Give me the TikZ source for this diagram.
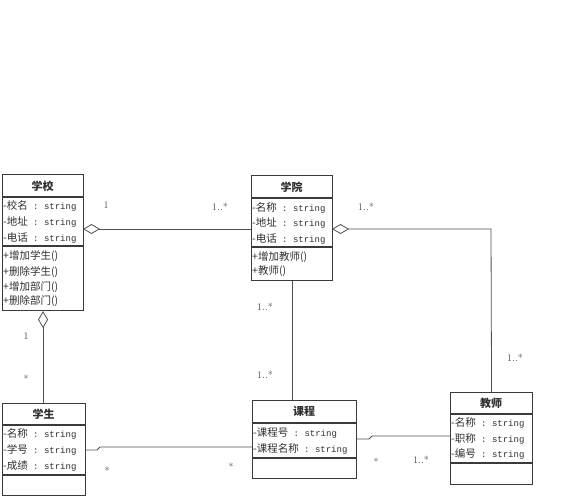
\documentclass[tikz,border=0pt]{standalone}
\usepackage{fontspec}
\newfontfamily\cjk{Noto Sans CJK SC}
\setmonofont{Liberation Mono}
\usetikzlibrary{arrows.meta}
\definecolor{boxc}{HTML}{3A3A3A}
\definecolor{linec}{HTML}{505050}
\definecolor{txt}{HTML}{303030}
\begin{document}
\begin{tikzpicture}[x=1pt,y=-1pt,
  box/.style={draw=boxc, line width=1.1pt, inner sep=0pt, anchor=north west},
  sep/.style={draw=boxc, line width=1.1pt},
  ttl/.style={inner sep=0pt, text=txt, font=\cjk\bfseries\fontsize{11}{12}\selectfont},
  attr/.style={anchor=west, inner sep=0pt, text=txt, font=\cjk\fontsize{10.5}{12}\selectfont},
  mult/.style={inner sep=0pt, text=txt!85, font=\fontsize{10}{11}\selectfont},
  link/.style={draw=linec, line width=0.8pt},
  agg/.style={link, {Diamond[open,length=17pt,width=10pt,line width=0.8pt]}-}
]
\useasboundingbox[fill=white] (0,0) rectangle (584,500);
\newcommand{\str}{{\ttfamily\fontsize{9}{10}\selectfont\ :\ string}}

% 学校
\node[box, minimum width=81pt, minimum height=136pt] (school) at (2,174) {};
\draw[sep] (2,197) -- (83,197);
\draw[sep] (2,246) -- (83,246);
\node[ttl] (schoolT) at (42.5,186) {学校};
\node[attr] (s1) at (3,206) {-校名\str};
\node[attr] (s2) at (3,222) {-地址\str};
\node[attr] (s3) at (3,238) {-电话\str};
\node[attr] (s4) at (3,256) {+增加学生()};
\node[attr] (s5) at (3,272) {+删除学生()};
\node[attr] (s6) at (3,287) {+增加部门()};
\node[attr] (s7) at (3,301) {+删除部门()};

% 学院
\node[box, minimum width=81pt, minimum height=105pt] (college) at (251,175) {};
\draw[sep] (251,198) -- (332,198);
\draw[sep] (251,247) -- (332,247);
\node[ttl] (collegeT) at (291.5,187) {学院};
\node[attr] (c1) at (252,208) {-名称\str};
\node[attr] (c2) at (252,223) {-地址\str};
\node[attr] (c3) at (252,239) {-电话\str};
\node[attr] (c4) at (252,257) {+增加教师()};
\node[attr] (c5) at (252,271) {+教师()};

% 学生
\node[box, minimum width=83pt, minimum height=92pt] (student) at (2,403) {};
\draw[sep] (2,425) -- (85,425);
\draw[sep] (2,475) -- (85,475);
\node[ttl] (studentT) at (43.5,414) {学生};
\node[attr] (t1) at (3,434) {-名称\str};
\node[attr] (t2) at (3,450) {-学号\str};
\node[attr] (t3) at (3,466) {-成绩\str};

% 课程
\node[box, minimum width=104pt, minimum height=78pt] (course) at (252,400) {};
\draw[sep] (252,423) -- (356,423);
\draw[sep] (252,458) -- (356,458);
\node[ttl] (courseT) at (304,411) {课程};
\node[attr] (k1) at (253,433) {-课程号\str};
\node[attr] (k2) at (253,449) {-课程名称\str};

% 教师
\node[box, minimum width=82pt, minimum height=92pt] (teacher) at (450,392) {};
\draw[sep] (450,414) -- (532,414);
\draw[sep] (450,463) -- (532,463);
\node[ttl] (teacherT) at (491,403) {教师};
\node[attr] (e1) at (451,423) {-名称\str};
\node[attr] (e2) at (451,439) {-职称\str};
\node[attr] (e3) at (451,454) {-编号\str};

% connector end points
\coordinate (scR) at (83,229);
\coordinate (coL) at (251,229);
\coordinate (coR) at (332,229);
\coordinate (coCorner) at (491,229);
\coordinate (stR) at (85,450);
\coordinate (stJ1) at (97,450);
\coordinate (stJ2) at (100,447);
\coordinate (cuL) at (252,447);
\coordinate (cuR) at (356,439);
\coordinate (cuJ1) at (369,439);
\coordinate (cuJ2) at (372,436);
\coordinate (teL) at (450,436);

% connectors
\draw[agg] (scR) -- (coL);
\draw[agg] (coR) -- (coCorner) -- (teacher.north);
\draw[agg] (school.south) -- (school.south |- student.north);
\draw[link] (college.south) -- (college.south |- course.north);
\draw[link] (stR) -- (stJ1) -- (stJ2) -- (cuL);
\draw[link] (cuR) -- (cuJ1) -- (cuJ2) -- (teL);

% multiplicities
\node[mult] (m1) at (106,205) {1};
\node[mult] (m2) at (220,207) {1..*};
\node[mult] (m3) at (366,207) {1..*};
\node[mult] (m4) at (26,336) {1};
\node[mult] (m5) at (26,379) {*};
\node[mult] (m6) at (265,307) {1..*};
\node[mult] (m7) at (265,375) {1..*};
\node[mult] (m8) at (515,358) {1..*};
\node[mult] (m9) at (107,471) {*};
\node[mult] (m10) at (231,467) {*};
\node[mult] (m11) at (376,462) {*};
\node[mult] (m12) at (421,460) {1..*};
\end{tikzpicture}
\end{document}
